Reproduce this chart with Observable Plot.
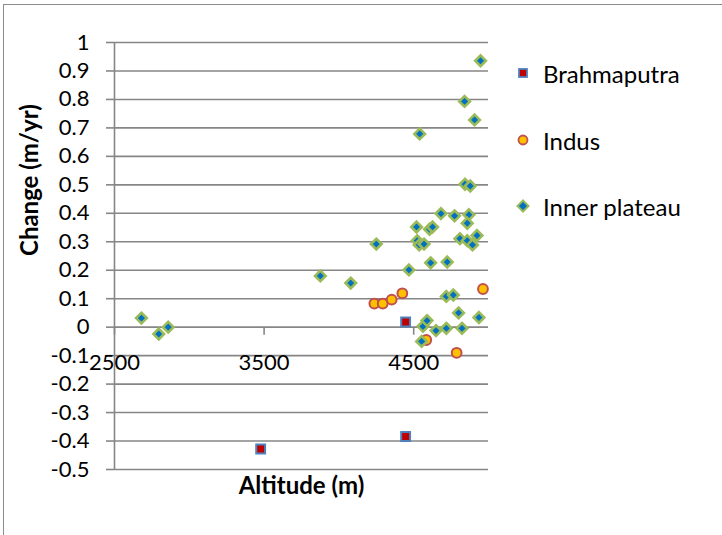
<!DOCTYPE html>
<html>
<head>
<meta charset="utf-8">
<script src="https://cdn.jsdelivr.net/npm/d3@7"></script>
<script src="https://cdn.jsdelivr.net/npm/@observablehq/plot@0.6"></script>
<style>
  html, body { margin: 0; padding: 0; background: #fff; }
  #wrap { position: relative; width: 722px; height: 535px; overflow: hidden; font-family: Lato, "Open Sans", sans-serif; }
  #frame { position: absolute; left: 3px; top: 4px; width: 800px; height: 600px; border-left: 1.5px solid #8c8c8c; border-top: 1.5px solid #8c8c8c; box-sizing: border-box; }
  #chart { position: absolute; left: 0; top: 0; }
  .leg { position: absolute; left: 514px; height: 30px; display: flex; align-items: center; font-size: 24px; color: #000; white-space: nowrap; }
  .leg svg { width: 18px; height: 18px; margin-right: 11px; }
</style>
</head>
<body>
<div id="wrap">
  <div id="frame"></div>
  <div id="chart"></div>
</div>
<script>
// ---- data ----
const seriesNames = ["Brahmaputra", "Indus", "Inner plateau"];

const brahmaAlt    = [3477, 4446, 4446];
const brahmaChange = [-0.428, 0.018, -0.384];

const indusAlt    = [4237, 4293, 4353, 4424, 4963, 4584, 4787];
const indusChange = [0.083, 0.083, 0.097, 0.119, 0.134, -0.045, -0.090];

const plateauAlt = [2680, 2796, 2859, 3876, 4079, 4250, 4468, 4519, 4524, 4537,
                    4569, 4606, 4626, 4613, 4682, 4724, 4773, 4809, 4843, 4878,
                    4869, 4858, 4858, 4893, 4923, 4718, 4765, 4800, 4936, 4562,
                    4589, 4649, 4718, 4823, 4553, 4947, 4840, 4907, 4540];
const plateauChange = [0.032, -0.024, 0.000, 0.180, 0.155, 0.292, 0.201, 0.352, 0.304, 0.289,
                       0.292, 0.344, 0.352, 0.226, 0.399, 0.229, 0.391, 0.311, 0.502, 0.496,
                       0.395, 0.365, 0.304, 0.289, 0.322, 0.108, 0.113, 0.050, 0.034, 0.003,
                       0.023, -0.012, -0.004, -0.004, -0.050, 0.936, 0.793, 0.728, 0.679];

const xTicks = [2500, 3500, 4500];
const yTicks = [1, 0.9, 0.8, 0.7, 0.6, 0.5, 0.4, 0.3, 0.2, 0.1, 0, -0.1, -0.2, -0.3, -0.4, -0.5];
const xTitle = "Altitude (m)";
const yTitle = "Change (m/yr)";

// ---- build tables ----
const toRows = (xs, ys) => xs.map((x, i) => ({x, y: ys[i]}));
const brahma = toRows(brahmaAlt, brahmaChange);
const indus = toRows(indusAlt, indusChange);
const plateau = toRows(plateauAlt, plateauChange);

const GRID = "#868686";
const styles = {
  "Brahmaputra":   {symbol: "square",   fill: "#C00000", stroke: "#4F81BD", r: 5.0, sw: 2},
  "Indus":         {symbol: "circle",   fill: "#FFC000", stroke: "#C0504D", r: 4.9, sw: 2},
  "Inner plateau": {symbol: "diamond2", fill: "#0070C0", stroke: "#9BBB59", r: 4.8, sw: 2.6}
};

const chart = Plot.plot({
  width: 722,
  height: 535,
  marginLeft: 114,
  marginRight: 234,
  marginTop: 42,
  marginBottom: 66,
  style: {fontFamily: "Lato, 'Open Sans', sans-serif", fontSize: "22px", color: "#000", background: "transparent", overflow: "visible"},
  x: {domain: [2500, 5000], axis: null},
  y: {domain: [-0.5, 1], axis: null},
  marks: [
    Plot.gridY(yTicks, {stroke: GRID, strokeOpacity: 1, strokeWidth: 1.6}),
    Plot.axisY(yTicks, {tickSize: 8, tickPadding: 17, stroke: GRID, strokeWidth: 1.6, strokeOpacity: 1,
                        tickFormat: d => String(+d.toFixed(1)), fontSize: 22, fill: "#000", label: null}),
    Plot.ruleX([2500], {stroke: GRID, strokeWidth: 1.6}),
    Plot.ruleX(xTicks, {x: d => d, y1: () => 0, y2: () => 0, insetBottom: -8, stroke: GRID, strokeWidth: 1.6}),
    Plot.text(xTicks, {x: d => d, y: () => 0, dy: 36, text: d => String(d), fontSize: 22, fill: "#000"}),
    Plot.text([xTitle], {frameAnchor: "bottom", dy: 24, fontWeight: "bold", fontSize: 24, fill: "#000"}),
    Plot.text([yTitle], {frameAnchor: "left", dx: -84, rotate: -90, fontWeight: "bold", fontSize: 24, fill: "#000"}),
    Plot.dot(brahma, {x: "x", y: "y", symbol: "square", r: styles["Brahmaputra"].r,
                      fill: styles["Brahmaputra"].fill, stroke: styles["Brahmaputra"].stroke, strokeWidth: 2}),
    Plot.dot(indus, {x: "x", y: "y", symbol: "circle", r: styles["Indus"].r,
                     fill: styles["Indus"].fill, stroke: styles["Indus"].stroke, strokeWidth: 2}),
    Plot.dot(plateau, {x: "x", y: "y", symbol: "diamond2", r: styles["Inner plateau"].r,
                       fill: styles["Inner plateau"].fill, stroke: styles["Inner plateau"].stroke, strokeWidth: 2.6})
  ]
});
document.getElementById("chart").appendChild(chart);

// ---- legend (HTML, right side) ----
const legendTop = [58, 125, 191];
const wrap = document.getElementById("wrap");
seriesNames.forEach((name, i) => {
  const s = styles[name];
  const row = document.createElement("div");
  row.className = "leg";
  row.style.top = legendTop[i] + "px";
  let shape;
  if (s.symbol === "square") shape = `<rect x="5" y="5" width="8" height="8" fill="${s.fill}" stroke="${s.stroke}" stroke-width="1.8"/>`;
  else if (s.symbol === "circle") shape = `<circle cx="9" cy="9" r="4.5" fill="${s.fill}" stroke="${s.stroke}" stroke-width="1.8"/>`;
  else shape = `<path d="M9,3.5 L14.5,9 L9,14.5 L3.5,9 Z" fill="${s.fill}" stroke="${s.stroke}" stroke-width="2"/>`;
  row.innerHTML = `<svg viewBox="0 0 18 18">${shape}</svg><span>${name}</span>`;
  wrap.appendChild(row);
});
</script>
</body>
</html>
